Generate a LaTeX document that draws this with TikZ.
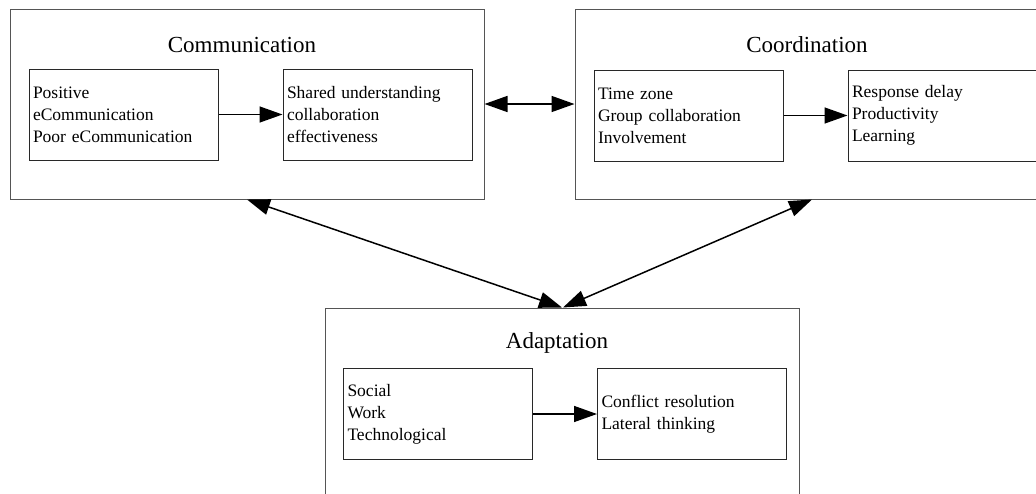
\documentclass[tikz,border=0pt]{standalone}
\usepackage{fontspec}
\setmainfont{Liberation Serif}
\usetikzlibrary{arrows.meta}
\begin{document}
\begin{tikzpicture}[x=1pt,y=-1pt,
	outerbox/.style={draw=outergray, line width=1pt, minimum width=474pt, minimum height=190pt, inner sep=0pt},
	innerbox/.style={draw=innergray, line width=1pt, text width=181pt, inner xsep=4pt, inner ysep=0pt, minimum height=91pt, align=left, font=\fontsize{17.5}{22}\selectfont},
	boxtitle/.style={font=\fontsize{23}{27}\selectfont},
	link/.style={line width=1.5pt, -{Triangle[length=23pt,width=16pt]}},
	twoway/.style={line width=1.5pt, {Triangle[length=23pt,width=16pt]}-{Triangle[length=23pt,width=16pt]}}]
			\definecolor{outergray}{RGB}{85, 85, 85}
			\definecolor{innergray}{RGB}{40, 40, 40}
			\path[use as bounding box] (0,0) rectangle (1036,493);
			\clip (0,0) rectangle (1036,493);
			\node[outerbox] (comm) at (247,104) {};
			\node[outerbox] (coord) at (812,104) {};
			\node[outerbox] (adapt) at (562,403) {};
			\node[boxtitle] (commtitle) at (242,45) {Communication};
			\node[boxtitle] (coordtitle) at (807,45) {Coordination};
			\node[boxtitle] (adapttitle) at (557,343) {Adaptation};
			\node[innerbox] (commin) at (123.5,114.5) {Positive\\eCommunication\\Poor eCommunication};
			\node[innerbox] (commout) at (377.5,114.5) {Shared understanding\\collaboration\\effectiveness};
			\node[innerbox] (coordin) at (688.5,115.5) {Time zone\\Group collaboration\\Involvement};
			\node[innerbox] (coordout) at (942.5,115.5) {Response delay\\Productivity\\Learning};
			\node[innerbox] (adaptin) at (438,414) {Social\\Work\\Technological};
			\node[innerbox] (adaptout) at (692,414) {Conflict resolution\\Lateral thinking};
			\draw[link] (commin) -- (commout);
			\draw[link] (coordin) -- (coordout);
			\draw[link] (adaptin) -- (adaptout);
			\draw[twoway] (comm.east) -- (coord.west);
			\draw[twoway] (comm.south) -- (adapt.north);
			\draw[twoway] ([xshift=1pt]adapt.north) -- (coord.south);
		\end{tikzpicture}
\end{document}
